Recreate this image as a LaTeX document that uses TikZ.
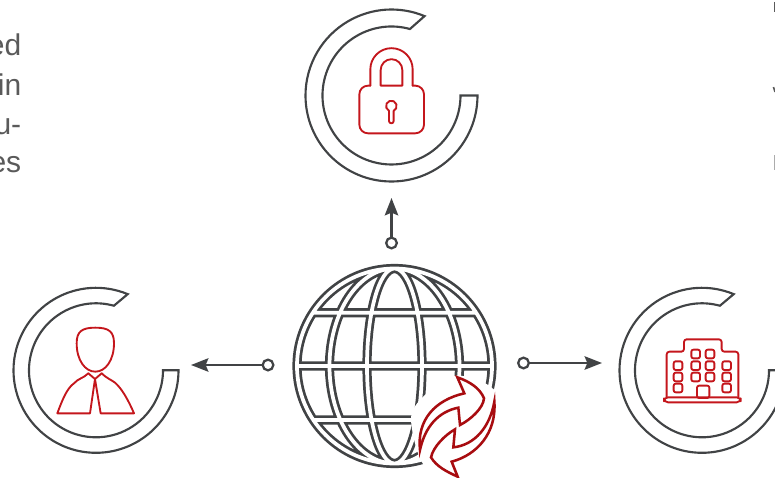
\documentclass[tikz,border=0pt]{standalone}
\usepackage{fontspec}
\setmainfont{Liberation Sans}
\usetikzlibrary{arrows.meta}
\definecolor{ink}{HTML}{414345}
\definecolor{iconred}{HTML}{C4161C}
\definecolor{syncred}{HTML}{A80C10}
\definecolor{txt}{HTML}{5A5A5A}
\tikzset{
 x=0.75pt,y=-0.75pt,
 ringline/.style={draw=ink,line width=1.6pt,line join=miter},
 iconline/.style={draw=iconred,line width=1.4pt,line join=round,line cap=round},
 syncline/.style={draw=syncred,fill=white,line width=1.9pt,line join=miter},
 dot/.style={circle,draw=ink,line width=1.7pt,fill=white,minimum size=8pt,inner sep=0pt},
 conn/.style={draw=ink,line width=1.9pt,-{Stealth[length=13pt,width=10pt,inset=2pt]}},
 parttext/.style={text=txt,font=\fontsize{22.5pt}{29pt}\selectfont,inner sep=0pt,anchor=base east},
 glo/.style={line width=#1,line cap=butt},
}
\newcommand{\cring}[4]{%
 \draw[ringline] ({#1+#3},#2) arc[start angle=0,end angle=292.6,radius=#3]
   -- ({#1+#4*cos(285.5)},{#2+#4*sin(285.5)})
   arc[start angle=285.5,end angle=0,radius=#4] -- cycle;
}
\newcommand{\globepaths}{%
 (0,0) circle[radius=97.5]
 (0,0) circle[x radius=27.5,y radius=97.5]
 (0,0) circle[x radius=65,y radius=97.5]
 (-97,0) -- (97,0)
 (-82,-53.3) -- (82,-53.3)
 (-82,54) -- (82,54)
}
\begin{document}
\begin{tikzpicture}
\useasboundingbox (0,0) rectangle (775,478);
\clip (0,0) rectangle (775,478);
% text fragments
\node[parttext] (t1) at (21.5,56) {ed};
\node[parttext] (t2) at (21.5,95) {in};
\node[parttext] (t3) at (21.5,134) {u-};
\node[parttext] (t4) at (21.5,172) {es};
\draw[txt,line width=1.2pt] (774.3,2) -- (774.3,12);
\draw[txt,line width=1.2pt] (773.5,87) -- (775,92);
\draw[txt!50,line width=1pt] (774.5,155) -- (774.5,170);
% rings
\cring{391.5}{95.5}{86}{69}
\cring{96}{370.3}{82.5}{67}
\cring{702}{370.3}{82.5}{67}
% lock
\begin{scope}[shift={(290,0)},scale=1/3]
 \draw[iconline,rounded corners=6.5pt] (241,257) -- (208,257) -- (208,400) -- (402,400) -- (402,257) -- (368,257);
 \draw[iconline] (241,257) -- (241,208) arc[start angle=180,end angle=360,radius=63.5] -- (368,257);
 \draw[iconline] (272,257) -- (272,210) arc[start angle=180,end angle=360,radius=32.5] -- (337,257) -- cycle;
 \draw[iconline] (297,332.4) arc[start angle=116,end angle=424,radius=16] -- (311,363) arc[start angle=0,end angle=180,radius=7] -- cycle;
\end{scope}
% person
\begin{scope}[shift={(0,280)},scale=1/3]
 \draw[iconline] (286,143) .. controls (245,143) and (230,155) .. (230,190) .. controls (230,240) and (255,275) .. (286,275) .. controls (317,275) and (342,240) .. (342,190) .. controls (342,155) and (327,143) .. (286,143) -- cycle;
 \draw[iconline] (265,280) .. controls (250,295) and (235,295) .. (222,310) .. controls (200,325) and (185,365) .. (172,400) -- (270,400) -- (285,297) -- (302,400) -- (402,400) .. controls (385,360) and (365,325) .. (345,308) .. controls (330,297) and (320,295) .. (305,280);
 \draw[iconline] (265,280) -- (285,297) -- (305,280);
\end{scope}
% building
\begin{scope}[shift={(610,280)},scale=1/3]
 \draw[iconline,rounded corners=2pt] (170,352) -- (170,215) -- (222,215) -- (222,178) -- (335,178) -- (335,215) -- (385,215) -- (385,352);
 \draw[iconline,rounded corners=3pt] (162,352) rectangle (392,367);
 \foreach \px/\py in {204/257,204/291,204/324,257/222,257/257,257/291,300/222,300/257,300/291,350/257,350/291,350/324}
   {\draw[iconline,rounded corners=1.5pt] ({\px-13},{\py-13}) rectangle ({\px+13},{\py+13});}
 \draw[iconline,rounded corners=1.5pt] (261,317) rectangle (298,354);
\end{scope}
% globe
\begin{scope}[shift={(394.5,366)}]
 \draw[ink,glo=6.9pt] \globepaths;
 \draw[white,glo=2.8pt] \globepaths;
\end{scope}
% sync
\begin{scope}[shift={(285,255)},scale=1/3]
 \fill[white] plot[smooth cycle] coordinates {(515,362) (625,402) (665,520) (520,672) (415,628) (378,490) (420,420)};
\end{scope}
\begin{scope}[shift={(405,370)},scale=1/3]
 \draw[syncline] (157,22) .. controls (195,35) and (225,55) .. (237,85) .. controls (235,115) and (195,150) .. (165,165) -- (160,113) .. controls (100,125) and (60,170) .. (45,240) .. controls (35,150) and (90,90) .. (178,70) -- cycle;
 \draw[syncline] (150,178) -- (145,232) .. controls (210,225) and (255,170) .. (268,95) .. controls (275,190) and (215,255) .. (140,275) -- (158,320) .. controls (125,305) and (95,290) .. (78,262) .. controls (85,230) and (120,195) .. (150,178) -- cycle;
\end{scope}
% connectors
\node[dot] (dtop) at (391.5,243) {};
\node[dot] (dleft) at (268,365) {};
\node[dot] (dright) at (523.5,363) {};
\coordinate (atop) at (391.5,198);
\coordinate (aleft) at (191,365);
\coordinate (aright) at (602,363);
\draw[conn] (dtop) -- (atop);
\draw[conn] (dleft) -- (aleft);
\draw[conn] (dright) -- (aright);
\end{tikzpicture}
\end{document}
